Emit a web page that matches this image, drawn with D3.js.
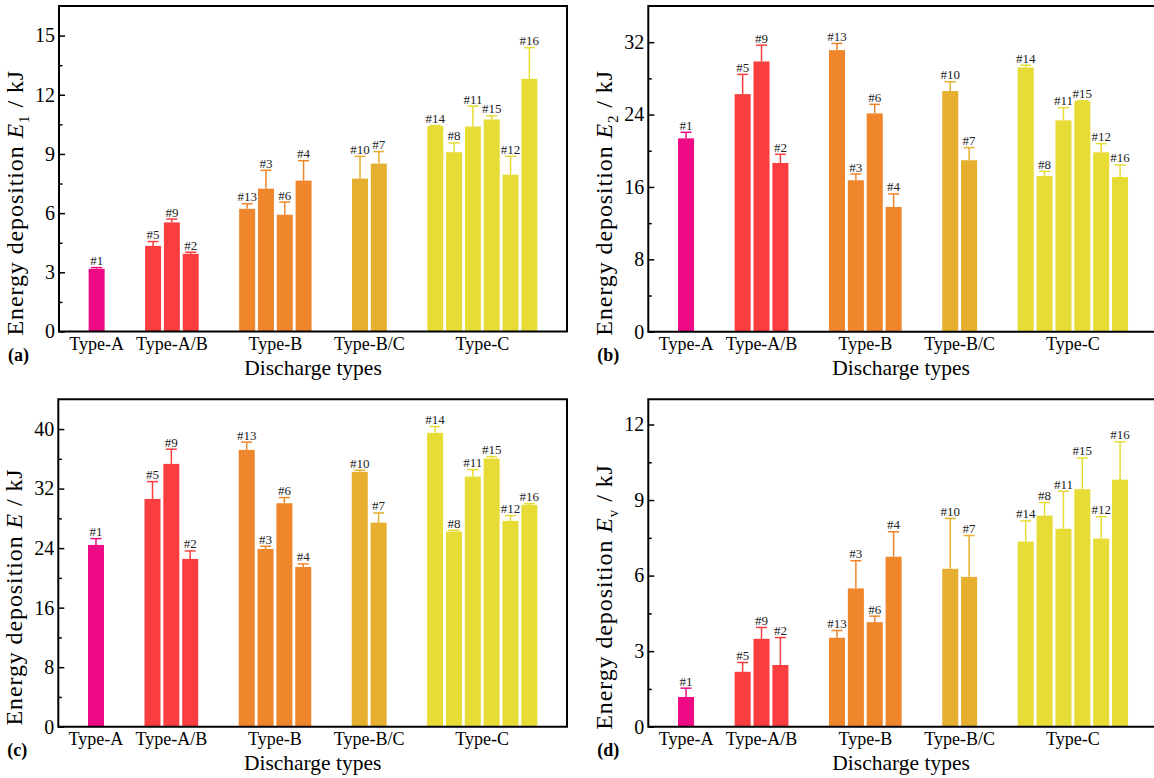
<!DOCTYPE html>
<html>
<head>
<meta charset="utf-8">
<script src="https://cdn.jsdelivr.net/npm/d3@7"></script>
<style>
  body { margin:0; background:#fff; }
  svg { display:block; font-family:"Liberation Serif","Times New Roman",serif; }
</style>
</head>
<body>
<svg id="chart" width="1154" height="778"></svg>
<script>
// shots in the order they appear along x
var shots = ["#1","#5","#9","#2","#13","#3","#6","#4","#10","#7","#14","#8","#11","#15","#12","#16"];
var slots = [0,3,4,5,8,9,10,11,14,15,18,19,20,21,22,23];
var groupIdx = [0,1,1,1,2,2,2,2,3,3,4,4,4,4,4,4];
var groups = ["Type-A","Type-A/B","Type-B","Type-B/C","Type-C"];
var groupPos = [0,4,9.5,14.5,20.5];
var colors = ["#ee0a84","#fa3e40","#f0862b","#e6af2f","#e6dc35"];

// energy values (kJ) and upper error
var e1    = [3.18,4.34,5.53,3.94,6.22,7.24,5.92,7.65,7.75,8.51,10.41,9.09,10.39,10.75,7.95,12.81];
var e1Err = [0.06,0.22,0.17,0.08,0.26,0.93,0.64,1.01,1.13,0.61,0.03,0.47,1.03,0.18,0.93,1.58];
var e2    = [21.37,26.26,29.87,18.65,31.12,16.74,24.13,13.79,26.6,18.95,29.21,17.21,23.36,25.49,19.83,17.1];
var e2Err = [0.67,2.18,1.80,0.96,0.74,0.69,1.0,1.44,1.03,1.40,0.25,0.52,1.40,0.05,0.96,1.33];
var eT    = [24.43,30.61,35.32,22.55,37.2,23.89,30.03,21.47,34.25,27.43,39.49,26.22,33.61,36.04,27.66,29.81];
var eTErr = [0.85,2.33,1.98,1.07,1.04,0.36,0.76,0.41,0.22,1.30,0.85,0.18,0.95,0.26,0.71,0.17];
var ev    = [1.18,2.18,3.49,2.45,3.53,5.49,4.15,6.75,6.27,5.95,7.35,8.38,7.86,9.43,7.47,9.81];
var evErr = [0.35,0.37,0.45,1.09,0.29,1.10,0.24,0.99,2.0,1.64,0.82,0.52,1.49,1.24,0.87,1.5];

var panels = [
  {tag:"(a)", vals:e1, err:e1Err, max:16.5, step:3, sub:"1", x0:59, x1:567, y0:6, y1:331.5},
  {tag:"(b)", vals:e2, err:e2Err, max:36, step:8, sub:"2", x0:648.3, x1:1157.8, y0:6, y1:331.7},
  {tag:"(c)", vals:eT, err:eTErr, max:44, step:8, sub:"", x0:58.3, x1:567, y0:399.3, y1:726.7},
  {tag:"(d)", vals:ev, err:evErr, max:13, step:3, sub:"v", x0:648.3, x1:1157.8, y0:399.3, y1:726.7}
];

var svg = d3.select("#chart");

panels.forEach(function(p){
  var g = svg.append("g");
  var x = d3.scaleLinear().domain([-2,25]).range([p.x0,p.x1]);
  var y = d3.scaleLinear().domain([0,p.max]).range([p.y1,p.y0]);
  var bw = (x(1)-x(0))*0.85;

  var major = d3.range(0, p.max+0.001, p.step);
  var minor = d3.range(p.step/2, p.max, p.step);

  // minor ticks
  g.append("g").attr("transform","translate("+p.x0+",0)")
    .call(d3.axisLeft(y).tickValues(minor).tickSize(-3.5).tickFormat(""))
    .call(function(a){ a.select(".domain").remove(); a.selectAll("line").attr("stroke-width",1.5); });
  // major ticks
  g.append("g").attr("transform","translate("+p.x0+",0)")
    .call(d3.axisLeft(y).tickValues(major).tickSize(-6).tickPadding(4).tickFormat(d3.format("d")))
    .call(function(a){
      a.select(".domain").remove();
      a.selectAll("line").attr("stroke-width",1.5);
      a.selectAll("text").attr("font-size",20).attr("font-family","Liberation Serif").attr("fill","#000");
    });

  // bars
  var d = shots.map(function(s,i){ return {s:s, slot:slots[i], gi:groupIdx[i], v:p.vals[i], e:p.err[i]}; });
  var bar = g.selectAll(".bar").data(d).enter().append("g");
  bar.append("rect")
    .attr("x", function(t){ return x(t.slot)-bw/2; })
    .attr("width", bw)
    .attr("y", function(t){ return y(t.v); })
    .attr("height", function(t){ return y(0)-y(t.v); })
    .attr("fill", function(t){ return colors[t.gi]; });
  bar.append("line")
    .attr("x1", function(t){ return x(t.slot); }).attr("x2", function(t){ return x(t.slot); })
    .attr("y1", function(t){ return y(t.v); }).attr("y2", function(t){ return y(t.v+t.e); })
    .attr("stroke", function(t){ return colors[t.gi]; }).attr("stroke-width",1.5);
  bar.append("line")
    .attr("x1", function(t){ return x(t.slot)-5.5; }).attr("x2", function(t){ return x(t.slot)+5.5; })
    .attr("y1", function(t){ return y(t.v+t.e); }).attr("y2", function(t){ return y(t.v+t.e); })
    .attr("stroke", function(t){ return colors[t.gi]; }).attr("stroke-width",1.5);
  bar.append("text")
    .attr("x", function(t){ return x(t.slot); })
    .attr("y", function(t){ return y(t.v+t.e)-2.5; })
    .attr("text-anchor","middle").attr("font-size",13).attr("fill","#222")
    .text(function(t){ return t.s; });

  // frame
  g.append("path")
    .attr("d","M"+p.x0+","+p.y0+"H"+p.x1+"V"+p.y1+"H"+p.x0+"Z")
    .attr("fill","none").attr("stroke","#000").attr("stroke-width",2);

  // category labels
  g.selectAll(".cat").data(groups).enter().append("text")
    .attr("x", function(t,i){ return x(groupPos[i]); })
    .attr("y", p.y1+18)
    .attr("text-anchor","middle").attr("font-size",18)
    .text(function(t){ return t; });

  g.append("text")
    .attr("x",(p.x0+p.x1)/2 - (p.x1>1154 ? 2 : 0)).attr("y",p.y1+43.5)
    .attr("text-anchor","middle").attr("font-size",21.5)
    .text("Discharge types");

  g.append("text")
    .attr("x",p.x0-51).attr("y",p.y1+29)
    .attr("font-size",18).attr("font-weight","bold")
    .text(p.tag);

  // y label
  var cy = (p.y0+p.y1)/2 + 34;
  var yl = g.append("text")
    .attr("transform","translate("+(p.x0-36)+","+cy+") rotate(-90)")
    .attr("text-anchor","middle").attr("font-size",24).attr("letter-spacing",0.9);
  yl.append("tspan").text("Energy deposition ");
  yl.append("tspan").attr("font-style","italic").text("E");
  if (p.sub) {
    yl.append("tspan").attr("font-size",15).attr("dy",6).text(p.sub);
    yl.append("tspan").attr("dy",-6).text(" / kJ");
  } else {
    yl.append("tspan").text(" / kJ");
  }
});
</script>
</body>
</html>
